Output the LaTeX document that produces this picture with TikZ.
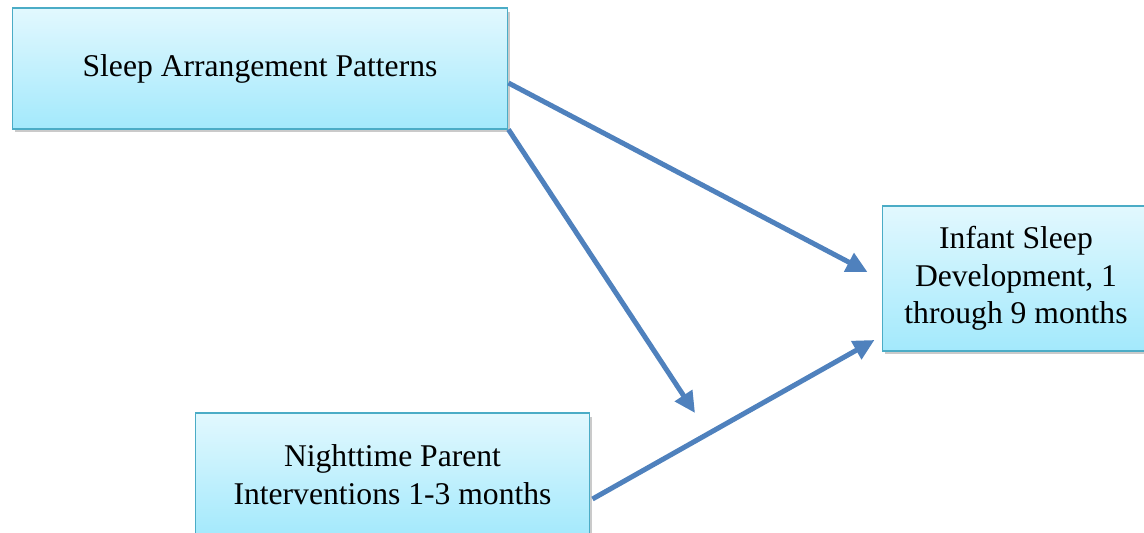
\documentclass[tikz,border=0pt]{standalone}
\usepackage{fontspec}
\setmainfont{Liberation Serif}
\usetikzlibrary{arrows.meta,shadows}
\definecolor{boxTop}{HTML}{E2F8FE}
\definecolor{boxBottom}{HTML}{A3E9FC}
\definecolor{boxBorder}{HTML}{4BACC6}
\definecolor{arrowBlue}{HTML}{4F81BD}

\begin{document}
\begin{tikzpicture}[x=0.02cm, y=-0.02cm,
	box/.style={rectangle,inner sep=3pt,draw=boxBorder,line width=0.6pt,top color=boxTop,bottom color=boxBottom,align=center,font=\fontsize{18}{21.5}\selectfont,drop shadow={shadow xshift=0.05cm,shadow yshift=-0.07cm,opacity=0.35,fill=black!60}},
	link/.style={draw=arrowBlue,line width=0.1cm,-{Triangle[length=0.42cm,width=0.4cm]}},
]

	\useasboundingbox (0,0) rectangle (1144,533);

	\node[box,minimum width=9.92cm,minimum height=2.42cm](sap) at(260,68.5){\raisebox{-0.12cm}{Sleep Arrangement Patterns}};
	\node[box,minimum width=7.9cm,minimum height=2.48cm](npi) at(392.5,475){Nighttime Parent\\Interventions 1-3 months};
	\node[box,minimum width=5.36cm,minimum height=2.9cm](isd) at(1016,278.5){Infant Sleep\\Development, 1\\through 9 months};

	\coordinate(tip) at(695,413);

	\draw[link]([yshift=-0.29cm]sap.east)--([xshift=-0.28cm,yshift=0.13cm]isd.west);
	\draw[link](sap.south east)--(tip);
	\draw[link]([xshift=0.04cm,yshift=-0.48cm]npi.east)--([xshift=-0.14cm,yshift=-1.23cm]isd.west);

\end{tikzpicture}
\end{document}
